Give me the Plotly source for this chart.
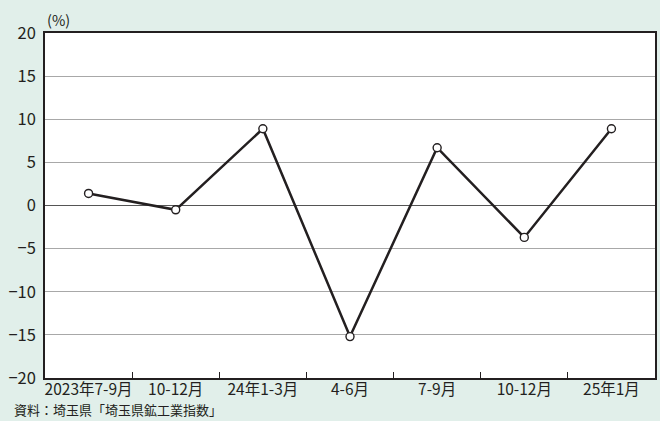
import plotly.graph_objects as go

# 埼玉県鉱工業生産指数 前期比(%)
periods = ["2023年7-9月", "10-12月", "24年1-3月", "4-6月", "7-9月", "10-12月", "25年1月"]
change_pct = [1.4, -0.5, 8.9, -15.2, 6.7, -3.7, 8.9]
y_ticks = [20, 15, 10, 5, 0, -5, -10, -15, -20]

FONT = "Noto Sans CJK JP"
INK = "#231f20"
BG = "#e1efea"

positions = list(range(len(periods)))
boundaries = [p + 0.5 for p in positions[:-1]]

fig = go.Figure()
fig.add_trace(go.Scatter(
    x=positions, y=change_pct,
    mode="lines+markers",
    line=dict(color=INK, width=2.5),
    marker=dict(size=8, color="white", line=dict(color=INK, width=1.4)),
    hoverinfo="skip",
))

fig.update_layout(
    width=660, height=421,
    margin=dict(l=45, r=5, t=33, b=43),
    paper_bgcolor=BG, plot_bgcolor="white",
    showlegend=False,
    font=dict(family=FONT, color=INK, size=15),
    xaxis=dict(
        range=[-0.5, len(periods) - 0.5],
        tickvals=positions, ticktext=periods, tickangle=0, ticks="",
        minor=dict(tickvals=boundaries, ticks="inside", ticklen=6,
                   tickcolor=INK, tickwidth=1, showgrid=False),
        showgrid=False, zeroline=False,
        showline=True, linecolor=INK, linewidth=1.5, mirror=True,
        tickfont=dict(size=15.5, family=FONT, color=INK),
        ticklabelstandoff=-3,
        automargin=False,
    ),
    yaxis=dict(
        range=[-20, 20], tickvals=y_ticks,
        ticks="", showgrid=True, gridcolor="#a8a8a8", gridwidth=1,
        zeroline=True, zerolinecolor="#555555", zerolinewidth=1.4,
        showline=True, linecolor=INK, linewidth=1.5, mirror=True,
        tickfont=dict(size=16.5, family=FONT, color=INK),
        ticklabelstandoff=4, automargin=False,
    ),
    annotations=[
        dict(text="(%)", xref="paper", yref="paper", x=0.0, y=1.0,
             xanchor="left", yanchor="bottom", yshift=1, showarrow=False,
             font=dict(size=14.5, family=FONT, color=INK)),
        dict(text="資料：埼玉県「埼玉県鉱工業指数」", xref="paper", yref="paper",
             x=0, y=0, yshift=-43, xshift=-33, xanchor="left", yanchor="bottom",
             showarrow=False, font=dict(size=13, family=FONT, color=INK)),
    ],
)

fig.write_html("out.html")
